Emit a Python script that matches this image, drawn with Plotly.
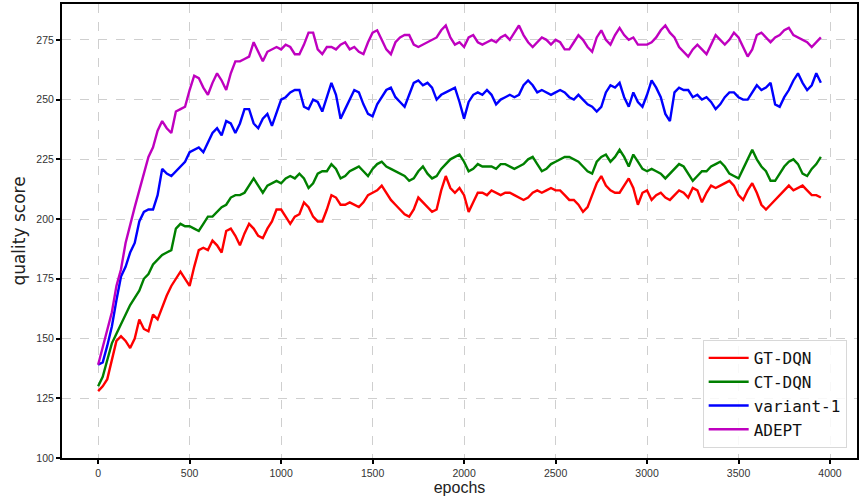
import plotly.graph_objects as go

step = 25  # epochs between samples

adept = [139,146,153,161,172,179,190,198,205,212,219,226,230,237,241,238,236,245,246,247,
         254,260,259,255,252,257,261,258,254,261,266,266,267,268,274,270,266,270,271,272,
         271,273,272,269,269,273,278,278,271,269,272,272,271,273,274,271,272,270,269,274,
         278,279,275,271,269,274,276,277,277,273,272,273,274,275,276,279,281,276,273,274,
         272,276,277,274,273,274,275,274,276,277,275,278,281,277,274,272,274,276,275,273,
         275,274,271,271,274,277,275,272,270,276,279,275,273,277,280,277,275,276,273,273,
         273,274,276,279,281,278,276,272,270,268,271,273,271,269,273,277,275,273,275,278,
         276,272,268,271,277,278,276,274,276,277,279,280,277,276,275,274,272,274,276]

variant1 = [139,140,147,155,166,176,180,186,190,199,203,204,204,210,221,219,218,220,222,224,
            228,229,230,228,232,236,238,235,241,240,236,240,246,246,240,238,242,244,239,245,
            250,251,253,254,254,247,246,250,249,245,251,257,252,242,246,250,254,253,248,244,
            243,248,251,254,255,251,249,247,252,257,258,256,257,255,250,252,253,254,255,249,
            242,249,252,253,252,254,252,248,250,251,252,251,252,256,258,256,253,254,253,252,
            253,254,253,251,250,252,250,248,247,245,247,253,256,255,257,251,247,253,249,247,
            252,258,255,251,244,241,253,255,254,254,251,252,250,251,249,246,248,251,253,253,
            251,250,250,253,256,254,255,257,248,247,251,254,258,261,257,254,256,261,257]

ct_dqn = [130,134,141,148,152,156,160,164,167,170,175,177,181,183,185,186,187,196,198,197,
          197,196,195,198,201,201,203,205,206,209,210,210,211,214,217,214,211,214,215,216,
          215,217,218,217,219,217,213,215,219,220,220,223,221,217,218,220,221,222,220,218,
          221,223,224,222,221,220,219,218,216,217,220,222,219,217,218,221,223,225,226,227,
          224,220,221,223,222,222,222,221,223,223,222,221,222,223,225,226,223,220,221,223,
          224,225,226,226,225,224,222,220,219,224,226,227,224,226,229,226,222,227,224,221,
          220,221,220,219,217,219,221,223,222,219,216,218,220,220,222,223,224,222,219,218,
          217,221,225,229,225,222,220,216,216,219,222,224,225,223,219,218,221,223,226]

gt_dqn = [128,130,133,141,149,151,149,146,150,158,154,153,160,158,163,168,172,175,178,175,
          172,180,187,188,187,191,189,186,195,196,193,189,194,198,196,193,192,196,199,204,
          204,201,198,201,202,207,205,201,199,199,204,210,209,206,206,207,206,205,207,210,
          211,212,214,211,208,206,204,202,201,204,209,207,205,203,204,212,218,213,211,213,
          210,203,207,211,211,210,212,211,210,211,211,210,209,208,209,211,212,211,212,213,
          212,212,210,208,208,206,203,205,210,215,218,214,212,211,211,214,217,213,206,211,
          212,208,210,211,209,208,210,212,211,209,213,212,207,211,214,213,214,215,216,214,
          210,208,212,215,211,206,204,206,208,210,212,214,212,213,214,212,210,210,209]

series_names = ["GT-DQN", "CT-DQN", "variant-1", "ADEPT"]
series_values = [gt_dqn, ct_dqn, variant1, adept]
series_colors = ["#ff0000", "#008000", "#0000ff", "#bf00bf"]

x_ticks = [0, 500, 1000, 1500, 2000, 2500, 3000, 3500, 4000]
y_ticks = [100, 125, 150, 175, 200, 225, 250, 275]

fig = go.Figure()
for name, vals, col in zip(series_names, series_values, series_colors):
    fig.add_trace(go.Scatter(
        x=[step * i for i in range(len(vals))], y=vals, mode="lines", name=name,
        line=dict(color=col, width=2.4),
    ))

axis_common = dict(
    showline=True, linecolor="black", linewidth=2, mirror=True,
    ticks="outside", ticklen=4, tickwidth=1.5, tickcolor="black",
    showgrid=True, gridcolor="#cfcfcf", griddash="dash", gridwidth=1.3,
    zeroline=False, automargin=False,
    tickfont=dict(family="Liberation Sans, Arial", size=10.5, color="#333333"),
)

fig.update_layout(
    width=865, height=502,
    margin=dict(l=62, r=8, t=4, b=44),
    paper_bgcolor="white", plot_bgcolor="white",
    xaxis=dict(range=[-197.5, 4147.5], tickvals=x_ticks,
               title=dict(text="epochs", font=dict(family="Liberation Sans, Arial", size=16, color="#222"), standoff=4),
               **axis_common),
    yaxis=dict(range=[100, 290], tickvals=y_ticks,
               title=dict(text="quality score", font=dict(family="DejaVu Sans", size=17, color="#222"), standoff=6),
               **axis_common),
    legend=dict(x=0.987, y=0.022, xanchor="right", yanchor="bottom",
                bgcolor="rgba(255,255,255,0.85)", bordercolor="#d8d8d8", borderwidth=1,
                font=dict(family="DejaVu Sans Mono", size=16, color="#111"),
                tracegroupgap=0, itemwidth=40),
    showlegend=True,
)

fig.write_html("out.html", config={"displayModeBar": False},
               post_script="document.body.style.margin='0';")
